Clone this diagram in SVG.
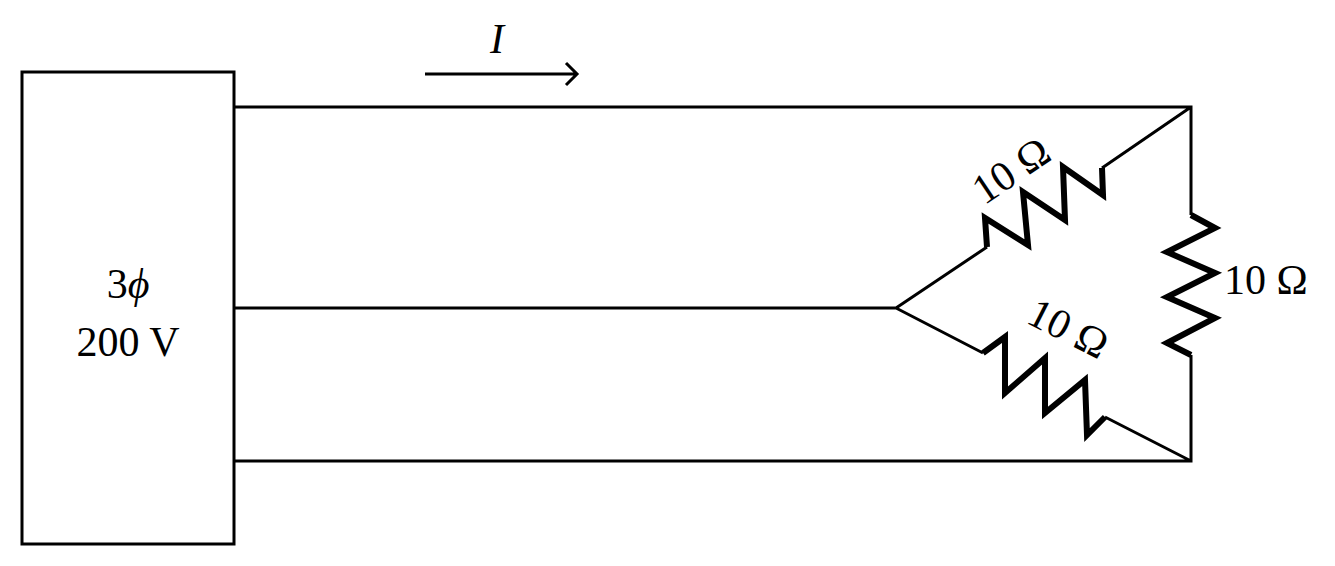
<svg xmlns="http://www.w3.org/2000/svg" width="1335" height="566" viewBox="0 0 1335 566">
<style>
.w{fill:none;stroke:#000;stroke-width:3;stroke-linejoin:miter}
.r{fill:none;stroke:#000;stroke-width:6;stroke-linejoin:miter}
text{font-family:"Liberation Serif","DejaVu Serif",serif;font-size:42px;fill:#000}
</style>
<rect width="1335" height="566" fill="#fff"/>
<g id="source"><rect class="w" x="22" y="72" width="212" height="472"/>
<text x="128" y="298" text-anchor="middle">3<tspan font-style="italic">ϕ</tspan></text>
<text x="128" y="356" text-anchor="middle">200 V</text></g>
<g id="connectors">
<path class="w" d="M234 107H1191V215M1191 355V461H234M234 308H896L987 247M1102 168L1191 107M896 308L983 353M1105 417L1191 461"/>
<path class="w" d="M425 74H577M566 63L577 74L566 85"/>
<text x="497" y="53" text-anchor="middle" font-style="italic">I</text>
</g>
<g id="r1"><polyline class="r" points="987,247 985,218 1028,245 1023,192 1065,220 1063,167 1103,195 1102,168"/>
<text transform="translate(1019,182) rotate(-34)" text-anchor="middle">10 Ω</text></g>
<g id="r2"><polyline class="r" points="983,353 1005,337 1005,393 1045,358 1045,413 1085,380 1087,435 1105,417"/>
<text transform="translate(1062,341) rotate(27)" text-anchor="middle">10 Ω</text></g>
<g id="r3"><polyline class="r" points="1191,215 1215,228 1167,252 1215,273 1167,297 1215,318 1167,343 1191,355"/>
<text x="1224" y="294">10 Ω</text></g>
</svg>
